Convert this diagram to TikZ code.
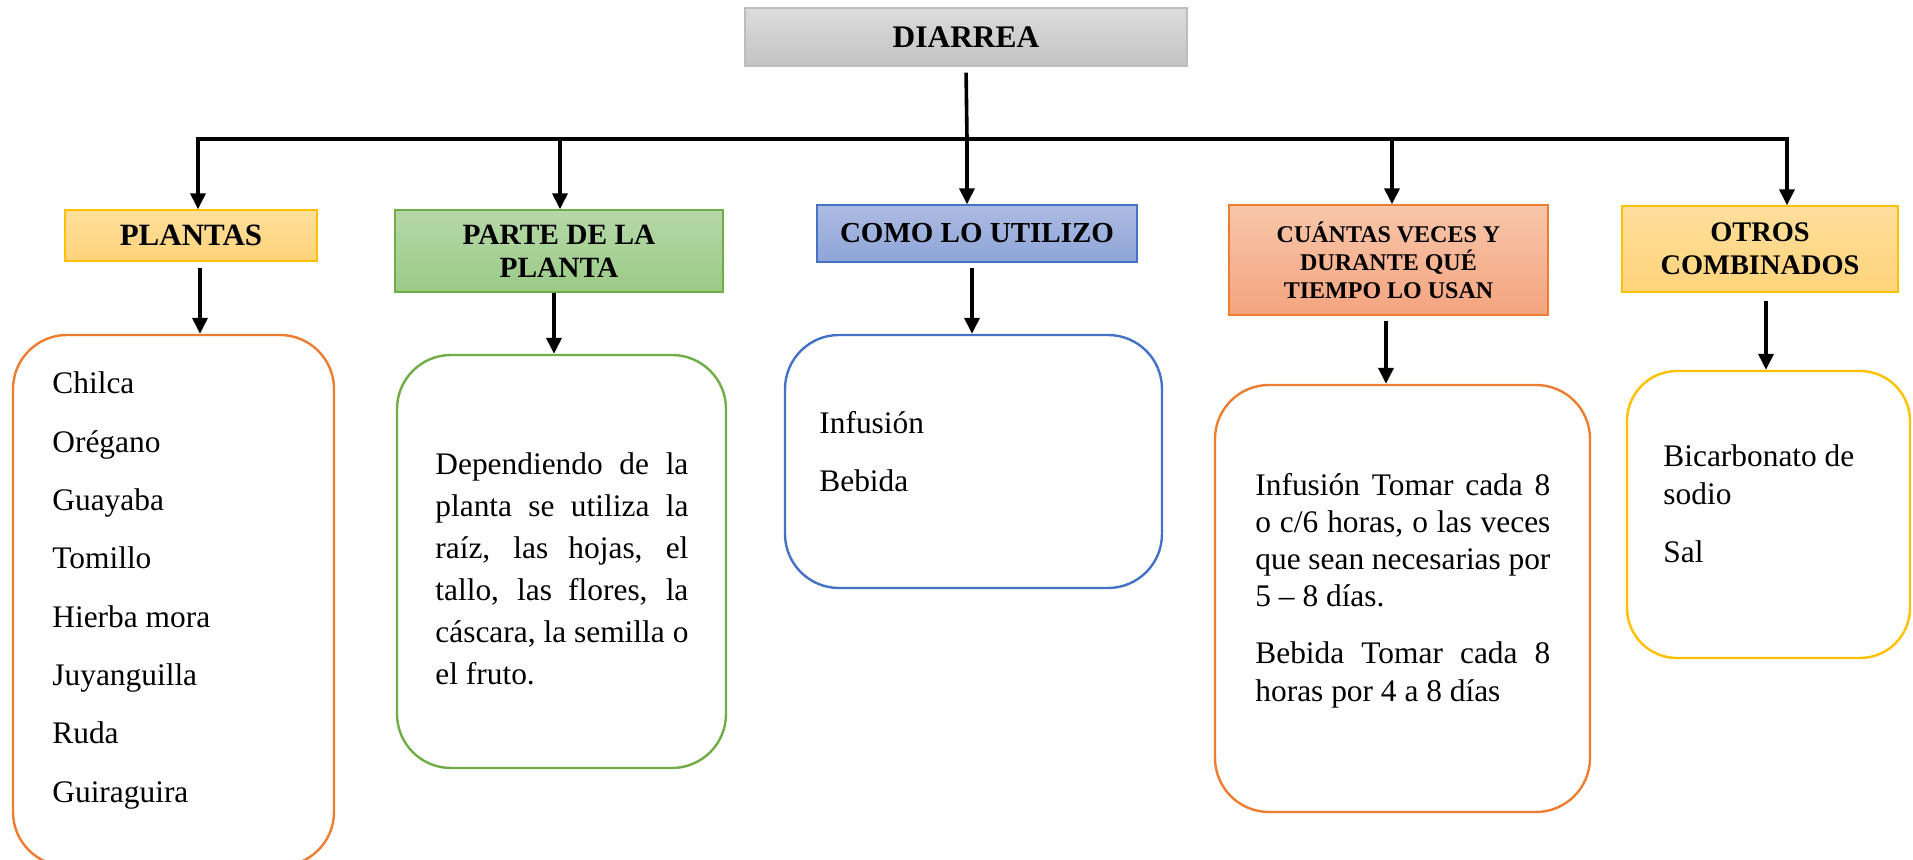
\documentclass[tikz,border=0pt]{standalone}
\usepackage{fontspec}
\setmainfont{Liberation Serif}
\usetikzlibrary{arrows.meta,calc}
\definecolor{grayT}{HTML}{DCDCDC}
\definecolor{grayB}{HTML}{C3C3C3}
\definecolor{grayL}{HTML}{BDBDBD}
\definecolor{goldT}{HTML}{FFDF9C}
\definecolor{goldB}{HTML}{FFD37A}
\definecolor{goldL}{HTML}{FFC000}
\definecolor{greenT}{HTML}{B5D8A8}
\definecolor{greenB}{HTML}{9BCA86}
\definecolor{greenL}{HTML}{70AD47}
\definecolor{blueT}{HTML}{ADBBE2}
\definecolor{blueB}{HTML}{8EA5D8}
\definecolor{blueL}{HTML}{4472C4}
\definecolor{orT}{HTML}{F8C6AA}
\definecolor{orB}{HTML}{F4A47F}
\definecolor{orL}{HTML}{ED7D31}
\begin{document}
\begin{tikzpicture}[x=0.5pt,y=-0.5pt,
  hdr/.style={draw, line width=0.7pt, inner sep=0pt, align=center, font=\bfseries},
  cbox/.style={draw, line width=1.2pt, rounded corners=27pt, fill=white, inner sep=0pt},
  txt/.style={inner sep=0pt, anchor=base west, font=\fontsize{15.7}{18}\selectfont},
  ln/.style={line width=1.8pt, black},
  arr/.style={line width=1.8pt, black, -{Triangle[width=7.5pt,length=8pt]}}]
\useasboundingbox (0,0) rectangle (1913,860);

% headers
\node[hdr, draw=grayL, top color=grayT, bottom color=grayB, minimum width=221pt, minimum height=29pt,
  font=\bfseries\fontsize{15.7}{18}\selectfont] (diarrea) at (966,37) {DIARREA};
\node[hdr, draw=goldL, top color=goldT, bottom color=goldB, minimum width=126pt, minimum height=25.5pt,
  font=\bfseries\fontsize{15.5}{18}\selectfont] (plantas) at (191,235.5) {PLANTAS};
\node[hdr, draw=greenL, top color=greenT, bottom color=greenB, minimum width=164pt, minimum height=41pt,
  font=\bfseries\fontsize{14.7}{16.5}\selectfont] (parte) at (559,251) {PARTE DE LA\\PLANTA};
\node[hdr, draw=blueL, top color=blueT, bottom color=blueB, minimum width=160pt, minimum height=28.5pt,
  font=\bfseries\fontsize{14.5}{17}\selectfont] (como) at (977,233.5) {COMO LO UTILIZO};
\node[hdr, draw=orL, top color=orT, bottom color=orB, minimum width=159.5pt, minimum height=55pt,
  font=\bfseries\fontsize{12}{14}\selectfont] (cuantas) at (1388.5,260) {CUÁNTAS VECES Y\\DURANTE QUÉ\\TIEMPO LO USAN};
\node[hdr, draw=goldL, top color=goldT, bottom color=goldB, minimum width=138pt, minimum height=43pt,
  font=\bfseries\fontsize{14.2}{16.5}\selectfont] (otros) at (1760,249) {OTROS\\COMBINADOS};

% content boxes
\node[cbox, draw=orL, minimum width=160.5pt, minimum height=265.5pt] (plantasbox) at (173.5,600.5) {};
\node[cbox, draw=greenL, minimum width=164.5pt, minimum height=206.5pt] (partebox) at (561.5,561.5) {};
\node[cbox, draw=blueL, minimum width=188.5pt, minimum height=126.5pt] (comobox) at (973.5,461.5) {};
\node[cbox, draw=orL, minimum width=187.5pt, minimum height=213.5pt] (cuantasbox) at (1402.5,598.5) {};
\node[cbox, draw=goldL, minimum width=141.5pt, minimum height=143.5pt, rounded corners=25pt] (otrosbox) at (1768.5,514.5) {};

% texts: plantas
\node[txt] (t1) at (52,394) {Chilca};
\node[txt] (t2) at (52,452.3) {Orégano};
\node[txt] (t3) at (52,510.6) {Guayaba};
\node[txt] (t4) at (52,568.9) {Tomillo};
\node[txt] (t5) at (52,627.2) {Hierba mora};
\node[txt] (t6) at (52,685.5) {Juyanguilla};
\node[txt] (t7) at (52,743.8) {Ruda};
\node[txt] (t8) at (52,802.1) {Guiraguira};

% parte
\node[txt] (q1) at (435,475) {\makebox[126.5pt][s]{Dependiendo de la}};
\node[txt] (q2) at (435,517) {\makebox[126.5pt][s]{planta se utiliza la}};
\node[txt] (q3) at (435,559) {\makebox[126.5pt][s]{raíz, las hojas, el}};
\node[txt] (q4) at (435,601) {\makebox[126.5pt][s]{tallo, las flores, la}};
\node[txt] (q5) at (435,643) {\makebox[126.5pt][s]{cáscara, la semilla o}};
\node[txt] (q6) at (435,685) {el fruto.};

% como
\node[txt] (u1) at (819,434) {Infusión};
\node[txt] (u2) at (819,492) {Bebida};

% cuantas
\node[txt] (c1) at (1255,496) {\makebox[147.5pt][s]{Infusión Tomar cada 8}};
\node[txt] (c2) at (1255,533) {\makebox[147.5pt][s]{o c/6 horas, o las veces}};
\node[txt] (c3) at (1255,570) {\makebox[147.5pt][s]{que sean necesarias por}};
\node[txt] (c4) at (1255,607) {5 – 8 días.};
\node[txt] (c5) at (1255,664) {\makebox[147.5pt][s]{Bebida Tomar cada 8}};
\node[txt] (c6) at (1255,702) {horas por 4 a 8 días};

% otros
\node[txt] (o1) at (1663,467) {Bicarbonato de};
\node[txt] (o2) at (1663,505) {sodio};
\node[txt] (o3) at (1663,563) {Sal};

% bus coordinates
\coordinate (b1) at (198,139);
\coordinate (b2) at (560,139);
\coordinate (bc) at (967,139);
\coordinate (b4) at (1392,139);
\coordinate (b5) at (1787,139);
\coordinate (x1) at (200,0);
\coordinate (x2) at (554,0);
\coordinate (x3) at (972,0);
\coordinate (x4) at (1386,0);
\coordinate (x5) at (1766,0);

% connectors
\draw[ln, shorten <=6pt*0+3pt] (diarrea.south) -- (bc);
\draw[arr] (bc) -- (b1) -- (b1 |- plantas.north);
\draw[arr] (bc) -- (b5) -- (b5 |- otros.north);
\draw[arr] (b2) -- (b2 |- parte.north);
\draw[arr] (bc) -- (bc |- como.north);
\draw[arr] (b4) -- (b4 |- cuantas.north);

\draw[arr, shorten <=3pt] (plantas.south -| x1) -- (plantasbox.north -| x1);
\draw[arr] (parte.south -| x2) -- (partebox.north -| x2);
\draw[arr, shorten <=2.5pt] (como.south -| x3) -- (comobox.north -| x3);
\draw[arr, shorten <=2.5pt] (cuantas.south -| x4) -- (cuantasbox.north -| x4);
\draw[arr, shorten <=4pt] (otros.south -| x5) -- (otrosbox.north -| x5);
\end{tikzpicture}
\end{document}
